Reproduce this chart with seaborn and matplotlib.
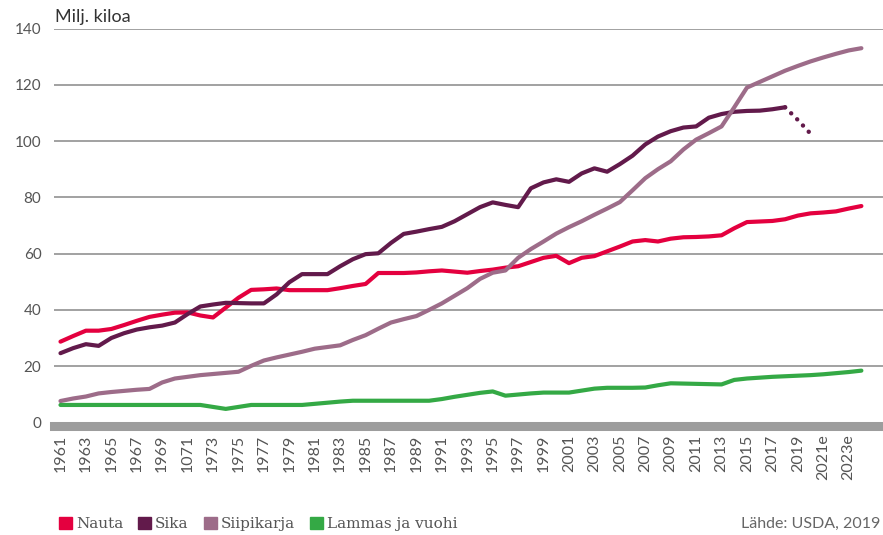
import matplotlib
matplotlib.use("Agg")
import matplotlib.pyplot as plt
import matplotlib.patches as mpatches
import numpy as np
import pandas as pd
import seaborn as sns

# data (million kg)
years = list(range(1961, 2025))

nauta = [28.7, 30.7, 32.6, 32.6, 33.2, 34.6, 36.1, 37.5, 38.3, 39.0,
         39.1, 38.0, 37.3, 40.8, 44.3, 47.1, 47.3, 47.6, 47.0, 47.0,
         47.0, 47.0, 47.7, 48.5, 49.2, 53.1, 53.1, 53.1, 53.3, 53.7,
         54.0, 53.6, 53.2, 53.8, 54.3, 55.0, 55.5, 57.0, 58.5, 59.2,
         56.6, 58.5, 59.1, 60.8, 62.5, 64.3, 64.8, 64.3, 65.3, 65.8,
         65.9, 66.1, 66.5, 69.0, 71.2, 71.4, 71.6, 72.2, 73.5, 74.3,
         74.6, 75.0, 76.0, 76.9]

sika = [24.6, 26.4, 27.8, 27.2, 30.0, 31.7, 33.0, 33.8, 34.4, 35.5,
        38.5, 41.2, 41.9, 42.5, 42.4, 42.3, 42.3, 45.5, 49.8, 52.7,
        52.7, 52.7, 55.5, 58.0, 59.8, 60.1, 63.8, 67.0, 67.8, 68.7,
        69.5, 71.5, 74.0, 76.5, 78.2, 77.3, 76.5, 83.2, 85.3, 86.4,
        85.5, 88.5, 90.3, 89.1, 91.8, 94.8, 98.8, 101.6, 103.5, 104.8,
        105.2, 108.3, 109.6, 110.4, 110.7, 110.8, 111.3, 112.0]
sika_ennuste_years = [2018, 2019, 2020]
sika_ennuste = [112.0, 107.5, 102.6]

siipikarja = [7.6, 8.5, 9.2, 10.3, 10.8, 11.2, 11.6, 11.9, 14.2, 15.6,
              16.2, 16.8, 17.2, 17.6, 18.0, 20.1, 22.0, 23.1, 24.1, 25.1,
              26.2, 26.8, 27.4, 29.3, 31.0, 33.3, 35.5, 36.7, 37.8, 40.0,
              42.3, 45.0, 47.7, 51.0, 53.2, 54.0, 58.5, 61.6, 64.3, 67.1,
              69.4, 71.5, 73.8, 76.0, 78.3, 82.5, 86.8, 90.0, 92.8, 97.0,
              100.5, 102.8, 105.2, 112.0, 119.0, 121.0, 123.0, 125.0, 126.7, 128.3,
              129.7, 131.0, 132.2, 133.0]

lammas = [6.2, 6.2, 6.2, 6.2, 6.2, 6.2, 6.2, 6.2, 6.2, 6.2,
          6.2, 6.2, 5.5, 4.8, 5.5, 6.2, 6.2, 6.2, 6.2, 6.2,
          6.6, 7.0, 7.4, 7.7, 7.7, 7.7, 7.7, 7.7, 7.7, 7.7,
          8.3, 9.1, 9.8, 10.5, 11.0, 9.5, 9.9, 10.3, 10.6, 10.6,
          10.6, 11.3, 12.0, 12.3, 12.3, 12.3, 12.4, 13.2, 13.9, 13.8,
          13.7, 13.6, 13.5, 15.1, 15.6, 15.9, 16.2, 16.4, 16.6, 16.8,
          17.1, 17.5, 17.9, 18.4]

series_names = ["Nauta", "Sika", "Siipikarja", "Lammas ja vuohi"]
colors = ["#e4003f", "#621a4b", "#9d6c89", "#34a945"]

tick_years = list(range(1961, 2024, 2))
tick_labels = [str(y) for y in tick_years]
tick_labels[tick_labels.index("1971")] = "1071"
tick_labels[-2] = "2021e"
tick_labels[-1] = "2023e"

frames = []
for name, vals in zip(series_names, [nauta, sika, siipikarja, lammas]):
    frames.append(pd.DataFrame({"vuosi": years[:len(vals)], "arvo": vals, "laji": name}))
df = pd.concat(frames, ignore_index=True)
df_ennuste = pd.DataFrame({"vuosi": sika_ennuste_years, "arvo": sika_ennuste})

sns.set_theme(style="white")
plt.rcParams["font.family"] = ["Lato", "DejaVu Sans"]

fig = plt.figure(figsize=(8.83, 5.35), dpi=100)
ax = fig.add_axes([54 / 883, 1 - 426.2 / 535, 1 - 54 / 883, (426.2 - 28.5) / 535])

palette = dict(zip(series_names, colors))
sns.lineplot(data=df, x="vuosi", y="arvo", hue="laji", palette=palette,
             linewidth=3, legend=False, ax=ax, zorder=3,
             solid_capstyle="round", solid_joinstyle="round")
# ennuste (dotted)
sns.lineplot(data=df_ennuste, x="vuosi", y="arvo", color=colors[1],
             linewidth=3.2, ax=ax, zorder=3,
             linestyle=(1.9, (0.01, 1.9)), dash_capstyle="round")

ax.set_xlim(1960.49, 2025.7)
ax.set_ylim(-1.35, 140)
ax.set_yticks(range(0, 141, 20))
ax.set_xticks(tick_years)
ax.set_xticklabels(tick_labels, rotation=90)
ax.set_xlabel("")
ax.set_ylabel("")

for v in range(20, 141, 20):
    ax.axhline(v, color="#9a9a9a", linewidth=1.3, zorder=1)

for s in ["top", "right", "left"]:
    ax.spines[s].set_visible(False)
ax.spines["bottom"].set_color("#9d9d9d")
ax.spines["bottom"].set_linewidth(6.5)

ax.tick_params(axis="both", length=0, labelsize=11, labelcolor="#555555")
ax.tick_params(axis="x", labelsize=11.5, pad=6)
ax.tick_params(axis="y", pad=9)

fig.text(55 / 883, 1 - 17 / 535, "Milj. kiloa", fontsize=13, color="#333333",
         va="center", ha="left")

handles = [mpatches.Patch(color=c, label=n) for n, c in zip(series_names, colors)]
leg = fig.legend(handles=handles, loc="center left", ncol=4, frameon=False,
                 bbox_to_anchor=(53 / 883, 1 - 524 / 535), borderaxespad=0,
                 handlelength=0.85, handleheight=0.85, handletextpad=0.25,
                 columnspacing=1.0, prop={"family": "DejaVu Serif", "size": 11})
for t in leg.get_texts():
    t.set_color("#555555")

fig.text(880 / 883, 1 - 524 / 535, "Lähde: USDA, 2019", fontsize=11.5,
         color="#666666", ha="right", va="center")

fig.savefig("out.png", dpi=100)
